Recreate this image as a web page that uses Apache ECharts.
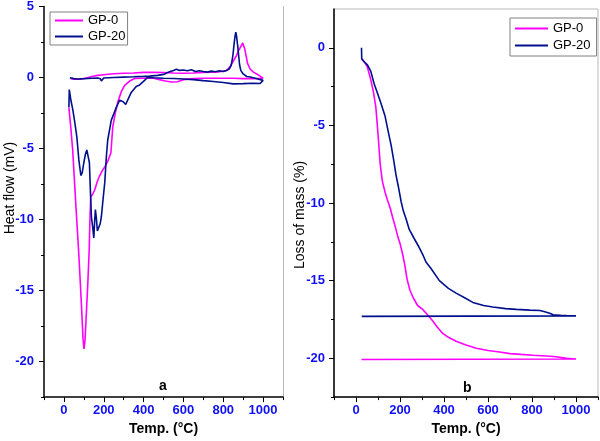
<!DOCTYPE html>
<html><head><meta charset="utf-8">
<script src="https://cdn.jsdelivr.net/npm/echarts@6/dist/echarts.min.js"></script>
<style>html,body{margin:0;padding:0;background:#fff}#c{width:600px;height:441px}</style>
</head><body><div id="c"></div>
<script>
const seriesNames = ['GP-0', 'GP-20'];
const panelLabels = ['a', 'b'];
const xTitle = 'Temp. (°C)';
const yTitles = ['Heat flow (mV)', 'Loss of mass (%)'];
const tempTicks = [0, 200, 400, 600, 800, 1000];
const tempMinor = [-100, 100, 300, 500, 700, 900, 1100];
const dtaTicks = [-20, -15, -10, -5, 0, 5];
const dtaMinor = [-22.5, -17.5, -12.5, -7.5, -2.5, 2.5];
const tgaTicks = [-20, -15, -10, -5, 0];
const tgaMinor = [-22.5, -17.5, -12.5, -7.5, -2.5];

// DTA GP-0 (heating then cooling)
const gp0DtaT = [25,35,44,60,75,88,96,101,106,113,120,127,131,135,145,155,168,180,195,205,220,230,236,245,258,270,288,305,330,355,400,450,480,510,540,570,600,650,700,750,800,850,900,950,1000,
  1000,985,968,950,935,922,915,908,898,888,877,865,852,835,818,780,740,700,650,600,550,500,450,400,350,300,250,200,170,140,110,80,50,35];
const gp0DtaV = [-2.1,-3.6,-5.1,-9.0,-12.5,-16.0,-18.4,-19.1,-18.5,-16.5,-14.5,-12.1,-9.8,-8.4,-8.2,-7.9,-7.3,-6.9,-6.5,-6.3,-5.9,-5.8,-5.3,-3.5,-2.5,-1.75,-1.0,-0.56,-0.25,-0.07,-0.05,-0.05,-0.15,-0.25,-0.32,-0.3,-0.15,-0.08,-0.05,-0.05,-0.05,-0.05,-0.08,-0.08,-0.05,
  0.0,0.1,0.25,0.4,0.6,1.0,1.5,2.0,2.43,2.3,1.9,1.5,1.2,0.8,0.5,0.4,0.38,0.35,0.32,0.3,0.32,0.35,0.37,0.36,0.32,0.3,0.26,0.2,0.15,0.07,-0.05,-0.12,-0.12,-0.08];
// DTA GP-20
const gp20DtaT = [25,27,35,45,55,65,75,85,92,100,108,115,122,128,133,138,145,150,154,158,163,168,175,182,188,197,205,213,220,238,263,280,288,298,310,323,338,363,380,390,405,420,450,500,550,600,650,700,750,800,850,900,950,985,1000,
  1000,990,960,930,918,900,888,882,877,872,867,863,859,854,848,840,830,815,800,780,760,740,720,700,680,660,640,620,600,580,565,550,530,500,470,430,400,350,300,250,200,192,188,183,170,140,100,70,50,30];
const gp20DtaV = [-2.1,-0.85,-1.6,-2.3,-3.2,-4.2,-5.8,-6.9,-6.7,-6.0,-5.4,-5.1,-5.2,-6.0,-8.0,-9.8,-10.6,-11.3,-10.2,-9.3,-9.9,-10.8,-10.7,-10.3,-9.8,-8.5,-7.4,-5.6,-4.4,-3.0,-2.1,-1.6,-1.5,-1.7,-1.9,-1.5,-1.05,-0.63,-0.52,-0.56,-0.2,0.0,-0.02,-0.05,-0.07,-0.1,-0.15,-0.22,-0.28,-0.35,-0.45,-0.43,-0.4,-0.42,-0.2,
  -0.15,-0.1,-0.05,0.05,0.07,0.25,0.5,0.9,1.6,2.3,2.9,3.2,2.9,2.3,1.5,0.85,0.6,0.5,0.42,0.47,0.4,0.45,0.38,0.42,0.48,0.42,0.55,0.48,0.53,0.5,0.58,0.5,0.4,0.22,0.15,0.1,0.08,0.05,0.03,0.0,-0.03,-0.1,-0.25,-0.08,-0.03,-0.05,-0.08,-0.1,-0.08,-0.02];

// TGA GP-0
const gp0TgaT = [25,40,52,67,80,90,97,103,110,120,132,143,155,166,178,189,200,212,222,232,245,260,280,303,325,349,370,394,420,455,500,547,600,653,700,750,804,866,910,957,1000,1000,25];
const gp0TgaV = [-0.7,-0.95,-1.25,-2.05,-2.9,-3.8,-5.0,-6.1,-7.5,-8.6,-9.3,-9.8,-10.3,-10.9,-11.5,-12.1,-12.6,-13.3,-14.0,-14.9,-15.6,-16.1,-16.6,-16.85,-17.2,-17.6,-18.0,-18.4,-18.65,-18.9,-19.15,-19.35,-19.5,-19.6,-19.7,-19.75,-19.8,-19.85,-19.9,-20.0,-20.05,-20.08,-20.08];
// TGA GP-20
const gp20TgaT = [25,26,37,52,67,82,97,113,132,148,160,172,182,192,205,215,227,242,265,285,303,318,340,379,420,455,500,531,580,622,680,729,790,836,858,880,896,930,957,1000,1000,26];
const gp20TgaV = [0,-0.7,-0.9,-1.1,-1.5,-2.3,-2.9,-3.55,-4.4,-5.5,-6.3,-7.3,-8.2,-8.9,-9.9,-10.5,-11.0,-11.7,-12.3,-12.8,-13.3,-13.8,-14.2,-15.0,-15.5,-15.8,-16.15,-16.4,-16.6,-16.7,-16.8,-16.85,-16.9,-16.92,-17.0,-17.1,-17.2,-17.23,-17.25,-17.27,-17.3,-17.3];

const pairs = (xs, ys) => xs.map((x, i) => [x, ys[i]]);
const colors = ['#ff00ff', '#00108c'];
const tickBlue = '#1010f8';
const FONT = 'Liberation Sans, Arial, sans-serif';
const plain = v => String(v);

function majorX(grid) {
  return {
    type: 'value', gridIndex: grid, position: 'bottom', min: -100, max: 1100, interval: 100,
    name: xTitle, nameLocation: 'middle', nameGap: 22,
    nameTextStyle: {fontFamily: FONT, fontWeight: 'bold', fontSize: 14, color: '#000'},
    axisLine: {show: true, onZero: false, lineStyle: {color: '#000', width: 1.5}},
    axisTick: {show: true, inside: false, length: 5, customValues: tempTicks, lineStyle: {color: '#000', width: 1}},
    axisLabel: {customValues: tempTicks, formatter: plain, margin: 7, color: tickBlue, fontFamily: FONT, fontWeight: 'bold', fontSize: 13},
    splitLine: {show: false}
  };
}
function minorX(grid) {
  return {
    type: 'value', gridIndex: grid, position: 'bottom', offset: 0, min: -100, max: 1100,
    axisLine: {show: false, onZero: false},
    axisTick: {show: true, inside: false, length: 3, customValues: tempMinor, lineStyle: {color: '#000', width: 1}},
    axisLabel: {show: false}, splitLine: {show: false}
  };
}
function majorY(grid, min, max, ticks, margin) {
  return {
    type: 'value', gridIndex: grid, position: 'left', min: min, max: max, interval: 2.5,
    axisLine: {show: true, onZero: false, lineStyle: {color: '#000', width: 1.5}},
    axisTick: {show: true, inside: false, length: 5, customValues: ticks, lineStyle: {color: '#000', width: 1}},
    axisLabel: {customValues: ticks, formatter: plain, margin: margin, color: tickBlue, fontFamily: FONT, fontWeight: 'bold', fontSize: 13},
    splitLine: {show: false}
  };
}
function minorY(grid, min, max, ticks) {
  return {
    type: 'value', gridIndex: grid, position: 'left', offset: 0, min: min, max: max,
    axisLine: {show: false, onZero: false},
    axisTick: {show: true, inside: false, length: 3, customValues: ticks, lineStyle: {color: '#000', width: 1}},
    axisLabel: {show: false}, splitLine: {show: false}
  };
}
function frameY(grid, min, max) {
  return {
    type: 'value', gridIndex: grid, position: 'right', offset: 0, min: min, max: max,
    axisLine: {show: true, onZero: false, lineStyle: {color: '#b8b8b8', width: 1}},
    axisTick: {show: false}, axisLabel: {show: false}, splitLine: {show: false}
  };
}
function line(name, data, xi, yi, color) {
  return {
    type: 'line', name: name, data: data, xAxisIndex: xi, yAxisIndex: yi,
    showSymbol: false, symbol: 'none', smooth: false, animation: false,
    lineStyle: {color: color, width: 1.6}, itemStyle: {color: color}
  };
}
function legend(left, top, itemWidth, padding, gap) {
  return {
    data: seriesNames, orient: 'vertical', left: left, top: top, icon: 'rect',
    itemWidth: itemWidth, itemHeight: 2, itemGap: gap, padding: padding,
    borderColor: '#808080', borderWidth: 1, backgroundColor: '#fff',
    textStyle: {fontFamily: FONT, fontSize: 13, color: '#000'},
    selectedMode: false
  };
}

const chart = echarts.init(document.getElementById('c'), null, {renderer: 'canvas'});
chart.setOption({
  animation: false,
  backgroundColor: '#fff',
  textStyle: {fontFamily: FONT},
  grid: [
    {left: 44, right: 317, top: 6, bottom: 42, show: false},
    {left: 334, right: 2, top: 9, bottom: 42, show: true, borderColor: '#b8b8b8', borderWidth: 1}
  ],
  xAxis: [majorX(0), minorX(0), majorX(1), minorX(1)],
  yAxis: [
    majorY(0, -22.5, 5, dtaTicks, 10), minorY(0, -22.5, 5, dtaMinor),
    majorY(1, -22.5, 2.5, tgaTicks, 9), minorY(1, -22.5, 2.5, tgaMinor),
    frameY(0, -22.5, 5)
  ],
  legend: [legend(50, 12, 28, [2, 2, 2, 5], 3), legend(510, 18, 33, [4, 6, 4, 5], 4)],
  title: [
    {text: panelLabels[0], left: 159, top: 379, padding: 0, textStyle: {fontFamily: FONT, fontWeight: 'bold', fontSize: 14, color: '#000'}},
    {text: panelLabels[1], left: 463, top: 381, padding: 0, textStyle: {fontFamily: FONT, fontWeight: 'bold', fontSize: 14, color: '#000'}}
  ],
  graphic: [
    {type: 'text', x: 10, y: 188, rotation: Math.PI / 2, style: {text: yTitles[0], align: 'center', verticalAlign: 'middle', font: '14px ' + FONT, fill: '#000'}},
    {type: 'text', x: 300, y: 215, rotation: Math.PI / 2, style: {text: yTitles[1], align: 'center', verticalAlign: 'middle', font: '14px ' + FONT, fill: '#000'}}
  ],
  series: [
    line(seriesNames[0], pairs(gp0DtaT, gp0DtaV), 0, 0, colors[0]),
    line(seriesNames[1], pairs(gp20DtaT, gp20DtaV), 0, 0, colors[1]),
    line(seriesNames[0], pairs(gp0TgaT, gp0TgaV), 2, 2, colors[0]),
    line(seriesNames[1], pairs(gp20TgaT, gp20TgaV), 2, 2, colors[1])
  ]
});
</script></body></html>
